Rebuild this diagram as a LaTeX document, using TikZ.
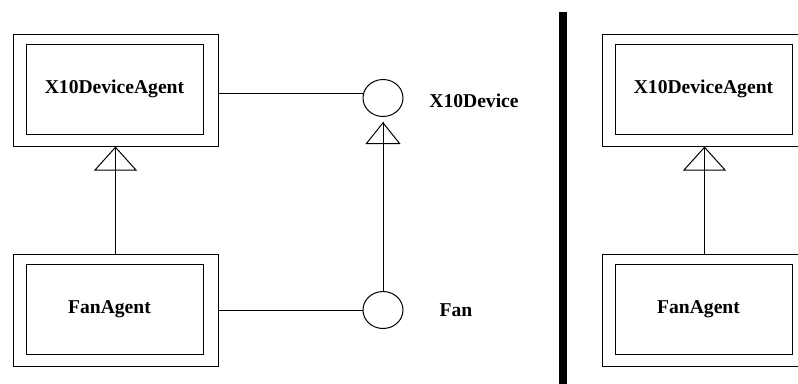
\documentclass[tikz,border=0pt]{standalone}
\usepackage{fontspec}
\setmainfont{Liberation Serif}
\usetikzlibrary{arrows.meta, positioning, shapes.geometric}

\tikzset{
  agentouter/.style={draw, line width=1pt, minimum width=205pt, minimum height=112pt, inner sep=0pt},
  agentinner/.style={draw, line width=1pt, minimum width=177pt, minimum height=90pt, inner sep=0pt},
  iface/.style={draw, ellipse, line width=1pt, minimum width=40pt, minimum height=37pt, inner sep=0pt},
  realize/.style 2 args={line width=1pt, postaction={draw, -{Triangle[open, length=#1, width=#2]}}}
}

\begin{document}
\begin{tikzpicture}[x=1pt, y=-1pt, font=\fontsize{19.6}{22}\selectfont\bfseries]
  \clip (0,0) rectangle (798,383);

  % Draw the agents, left and right
  \foreach \s/\side in {0/l,589/r} {
    \node[agentouter] (devagent\side) at (115.5+\s, 90) {};
    \node[agentinner] (devclass\side) at (114.5+\s, 89) {X10DeviceAgent};
    \node[agentouter] (fanagent\side) at (115.5+\s, 310) {};
    \node[agentinner, label={[xshift=-5pt]center:FanAgent}] (fanclass\side) at (114.5+\s, 309) {};
    \draw[realize={24pt}{43pt}] (fanagent\side) -- (devagent\side);
  }

  % Interfaces
  \node[iface] (x10) at (383, 98) {};
  \node[iface] (fan) at (383, 310) {};
  \node (x10lbl) at (474, 101) {X10Device};
  \node (fanlbl) at (456, 310) {Fan};

  % Connect agents and interfaces
  \draw[line width=1pt] ([yshift=-3pt]devagentl.east) -- ([yshift=-3pt]devagentl.east -| x10.west);
  \draw[line width=1pt] (fanagentl.east) -- (fan.west);
  \draw[realize={22pt}{35pt}, shorten >=5pt] (fan) -- (x10);

  % Separator
  \draw[line width=8pt] (563, 12) -- (563, 390);
\end{tikzpicture}
\end{document}
